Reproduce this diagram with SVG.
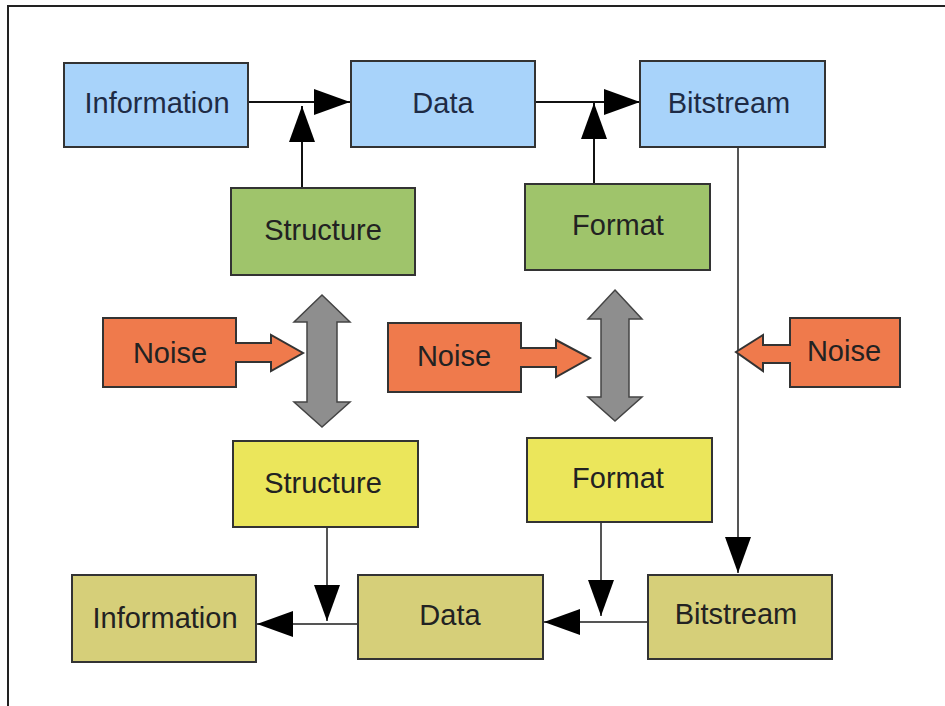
<svg xmlns="http://www.w3.org/2000/svg" width="945" height="706" viewBox="0 0 945 706">
  <defs>
    <marker id="head" markerUnits="userSpaceOnUse" markerWidth="38" markerHeight="28" refX="36" refY="13" orient="auto">
      <path d="M0,0 L36,13 L0,26 Z" fill="#000"/>
    </marker>
    <style>
      .box { stroke: #333; stroke-width: 2; }
      .blue { fill: #a8d3fa; }
      .green { fill: #9fc46b; }
      .yellow { fill: #ebe65b; }
      .olive { fill: #d6cf79; }
      .noise { fill: #ef7a4c; stroke: #333; stroke-width: 2; stroke-linejoin: miter; }
      .swap { fill: #8e8e8e; stroke: #444; stroke-width: 1.5; }
      .label { font-family: "Liberation Sans", Arial, sans-serif; font-size: 29px; text-anchor: middle; fill: #222; }
      .label.dark-blue { fill: #1e2b45; }
      .link { fill: none; stroke: #111; stroke-width: 2; marker-end: url(#head); }
      .link.thin { stroke: #555; }
      .frame { fill: none; stroke: #222; stroke-width: 2; }
    </style>
  </defs>

  <!-- page frame (top and left edges) -->
  <path class="frame" d="M945,6 H8 V706"/>

  <!-- connectors -->
  <g id="connectors">
    <line class="link" x1="248" y1="102" x2="350" y2="102"/>
    <line class="link" x1="302" y1="188" x2="302" y2="106"/>
    <line class="link" x1="535" y1="102" x2="640" y2="102"/>
    <line class="link" x1="594" y1="184" x2="594" y2="103"/>
    <line class="link thin" x1="738" y1="147" x2="738" y2="573"/>
    <line class="link thin" x1="327" y1="527" x2="327" y2="621"/>
    <line class="link thin" x1="358" y1="624" x2="257" y2="624"/>
    <line class="link thin" x1="601" y1="522" x2="601" y2="616"/>
    <line class="link thin" x1="648" y1="622" x2="544" y2="622"/>
  </g>

  <!-- sender side -->
  <g id="information-top">
    <rect class="box blue" x="64" y="63" width="184" height="84"/>
    <text class="label dark-blue" x="157" y="113">Information</text>
  </g>
  <g id="data-top">
    <rect class="box blue" x="351" y="61" width="184" height="86"/>
    <text class="label dark-blue" x="443" y="113">Data</text>
  </g>
  <g id="bitstream-top">
    <rect class="box blue" x="640" y="61" width="185" height="86"/>
    <text class="label dark-blue" x="729" y="113">Bitstream</text>
  </g>
  <g id="structure-top">
    <rect class="box green" x="231" y="188" width="184" height="87"/>
    <text class="label" x="323" y="240">Structure</text>
  </g>
  <g id="format-top">
    <rect class="box green" x="525" y="184" width="185" height="86"/>
    <text class="label" x="618" y="235">Format</text>
  </g>

  <!-- noise sources -->
  <g id="noise-left">
    <path class="noise" d="M103,318 H236 V343 H271 V335 L303,353 L271,371 V362 H236 V387 H103 Z"/>
    <text class="label" x="170" y="363">Noise</text>
  </g>
  <g id="noise-middle">
    <path class="noise" d="M388,323 H521 V348 H556 V340 L590,358 L556,377 V367 H521 V392 H388 Z"/>
    <text class="label" x="454" y="366">Noise</text>
  </g>
  <g id="noise-right">
    <path class="noise" d="M900,318 H790 V345 H763 V335 L736,352 L763,371 V363 H790 V387 H900 Z"/>
    <text class="label" x="844" y="361">Noise</text>
  </g>

  <!-- shared agreements -->
  <g id="structure-link">
    <path class="swap" d="M322,295 L350,322 H337 V402 H350 L322,427 L294,402 H307 V322 H294 Z"/>
  </g>
  <g id="format-link">
    <path class="swap" d="M615,290 L642,319 H629 V397 H642 L615,421 L588,397 H601 V319 H588 Z"/>
  </g>

  <!-- receiver side -->
  <g id="structure-bottom">
    <rect class="box yellow" x="233" y="441" width="185" height="86"/>
    <text class="label" x="323" y="493">Structure</text>
  </g>
  <g id="format-bottom">
    <rect class="box yellow" x="527" y="438" width="185" height="84"/>
    <text class="label" x="618" y="488">Format</text>
  </g>
  <g id="information-bottom">
    <rect class="box olive" x="72" y="575" width="184" height="87"/>
    <text class="label" x="165" y="628">Information</text>
  </g>
  <g id="data-bottom">
    <rect class="box olive" x="358" y="575" width="185" height="84"/>
    <text class="label" x="450" y="625">Data</text>
  </g>
  <g id="bitstream-bottom">
    <rect class="box olive" x="648" y="575" width="184" height="84"/>
    <text class="label" x="736" y="624">Bitstream</text>
  </g>
</svg>
